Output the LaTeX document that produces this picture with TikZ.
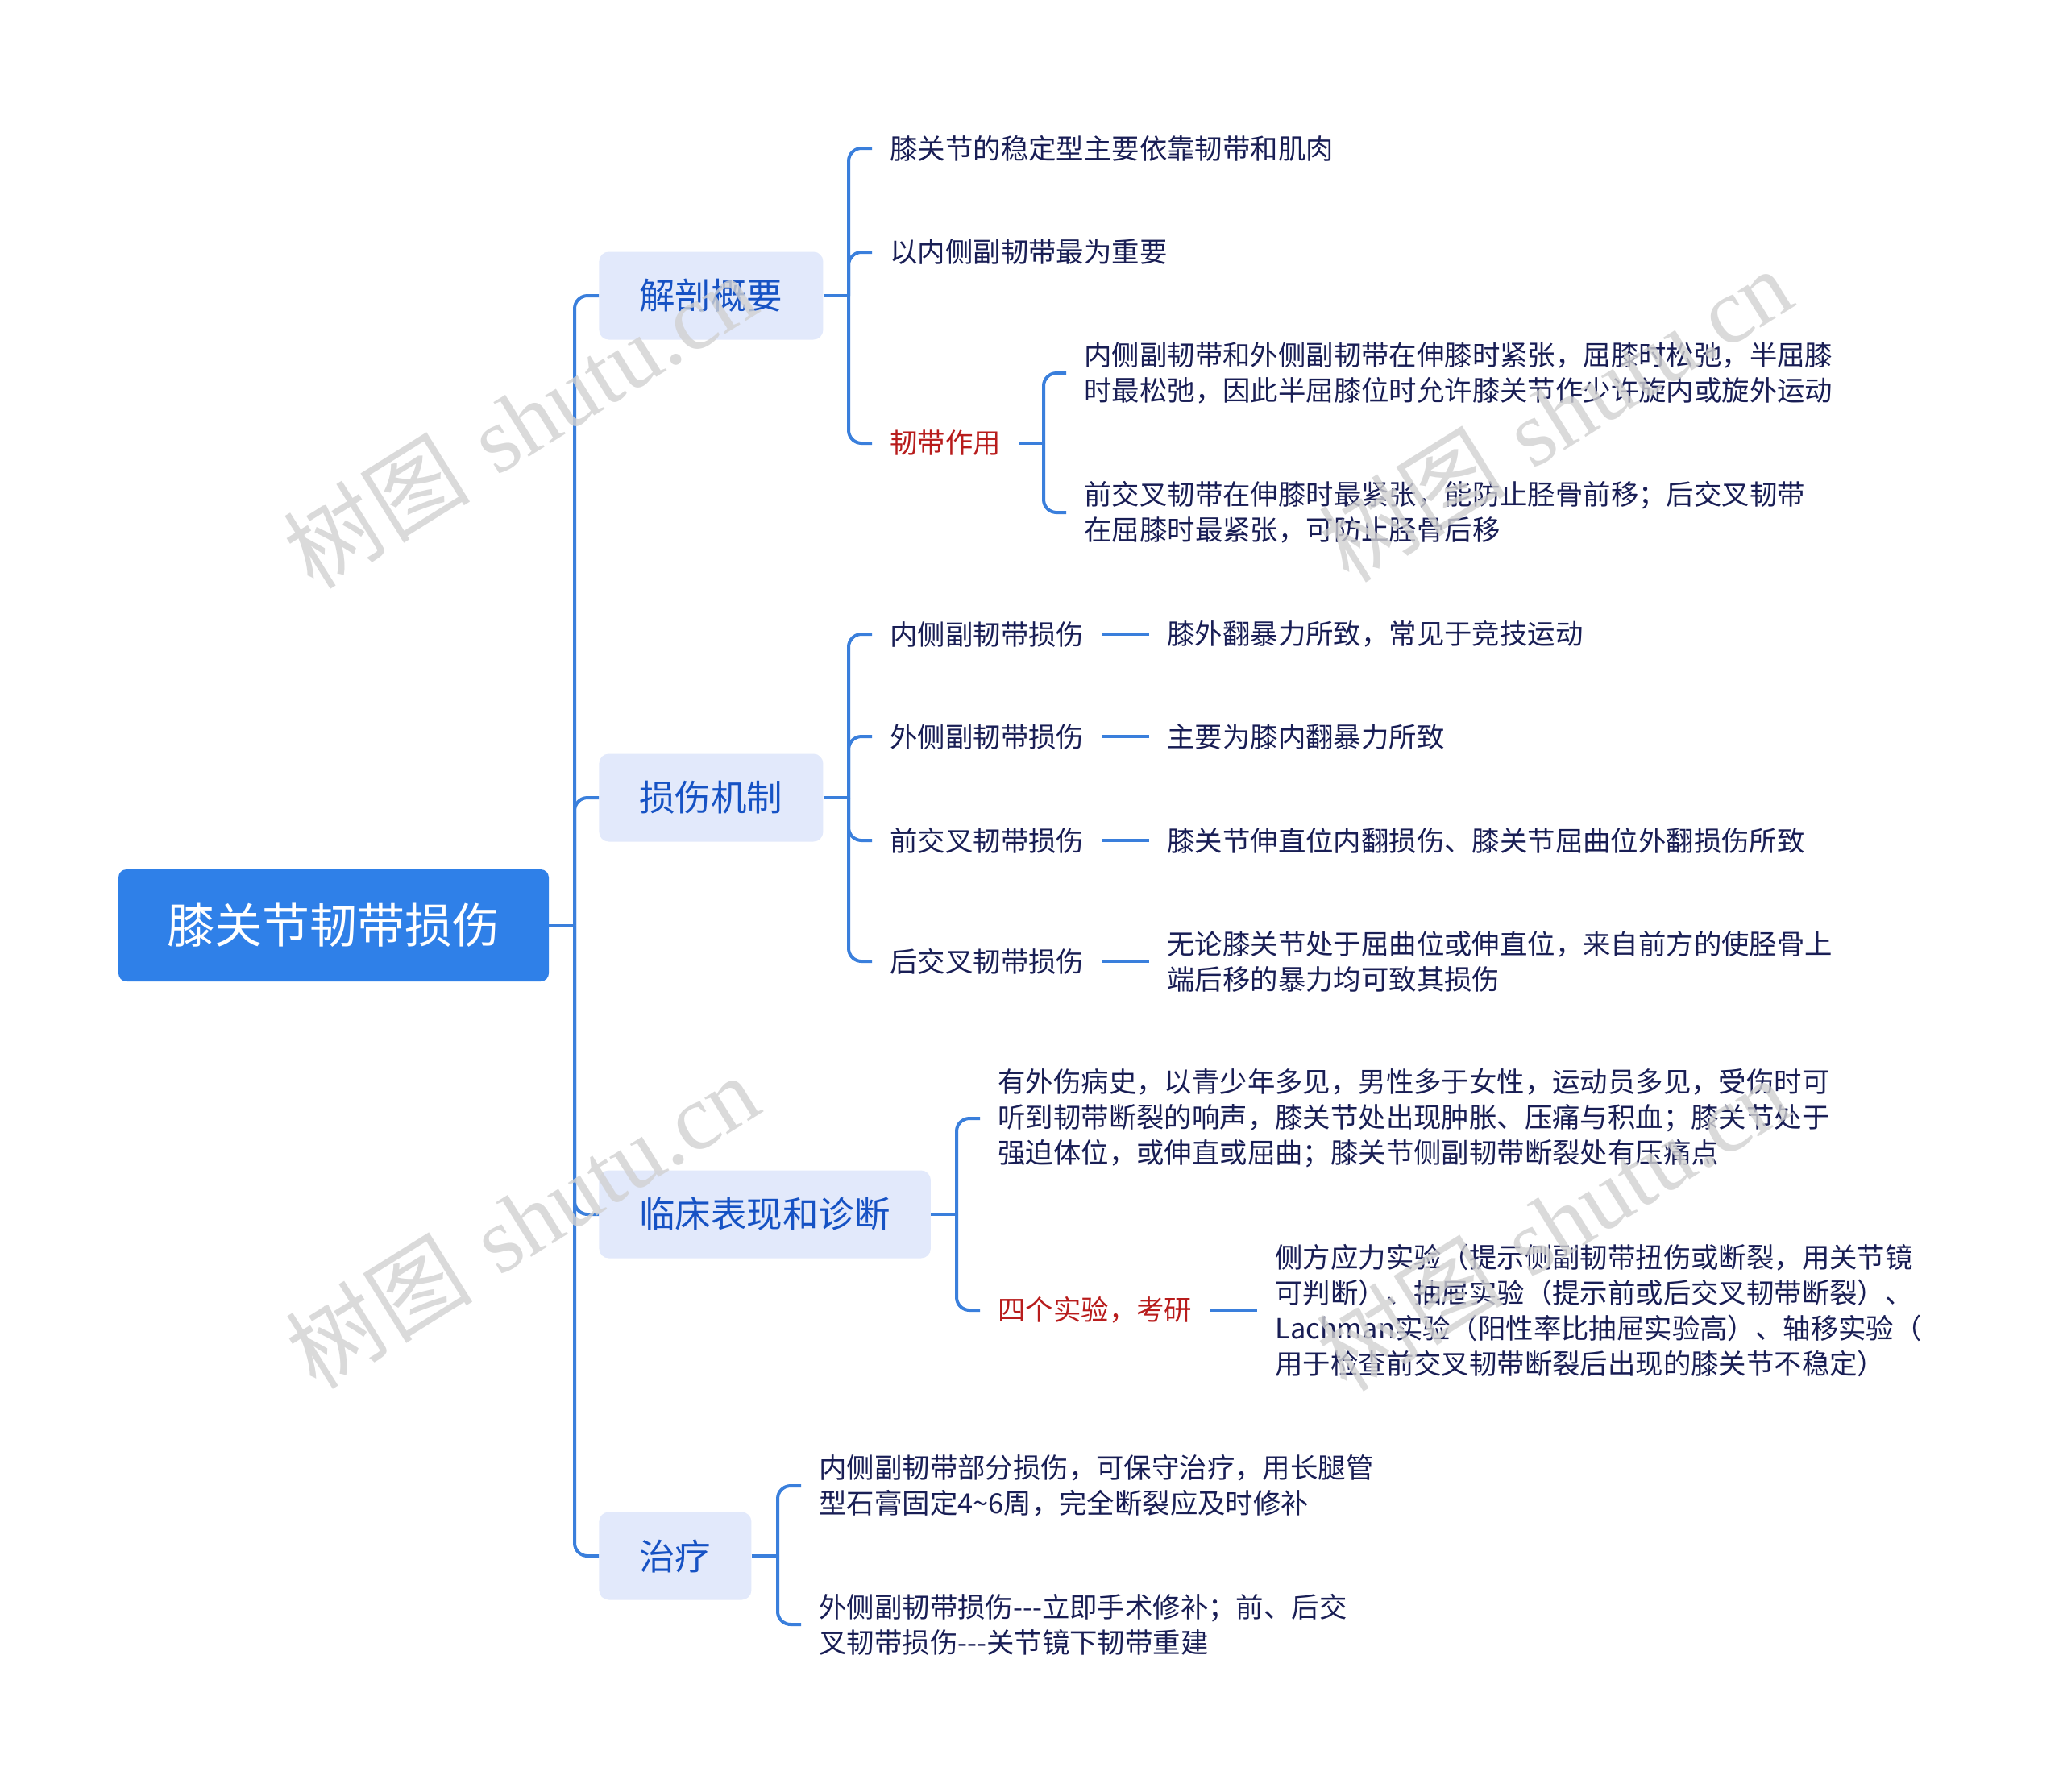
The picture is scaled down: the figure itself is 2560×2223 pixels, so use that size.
\documentclass[tikz,border=0pt]{standalone}
\usepackage{fontspec}
\newfontfamily\cjk{Noto Sans CJK SC}
\newfontfamily\wmserif{Liberation Serif}
\definecolor{rootblue}{HTML}{2F80E8}
\definecolor{lineblue}{HTML}{3A7FDC}
\definecolor{lonefill}{HTML}{E2E9FB}
\definecolor{lonetext}{HTML}{1652C4}
\definecolor{leaftxt}{HTML}{191E55}
\definecolor{redtxt}{HTML}{B81C1C}
\tikzset{
  rootbox/.style={fill=rootblue, rounded corners=5pt, text=white, font=\cjk\fontsize{29.5}{36}\selectfont, minimum width=267pt, minimum height=69.5pt, inner sep=0pt},
  lonebox/.style={fill=lonefill, rounded corners=6pt, text=lonetext, font=\cjk\fontsize{22.25}{28}\selectfont, inner xsep=25pt, inner ysep=0pt, minimum height=54.5pt, anchor=west},
  leaf/.style={text=leaftxt, font=\cjk\fontsize{17.2}{22}\selectfont, align=left, inner xsep=11pt, inner ysep=0pt, anchor=west},
  redleaf/.style={leaf, text=redtxt},
  conn/.style={draw=lineblue, line width=2pt, rounded corners=8pt},
  wmark/.style={rotate=32, text=black!18, opacity=0.8, font=\fontsize{58}{60}\selectfont}
}
\begin{document}
\begin{tikzpicture}[x=0.5pt,y=-0.5pt]
\useasboundingbox[fill=white] (0,0) rectangle (2560,2223);

% root
\node[rootbox] (root) at (414,1148.5) {膝关节韧带损伤};

% level 1
\node[lonebox] (n1) at (743,367) {解剖概要};
\node[lonebox] (n2) at (743,990) {损伤机制};
\node[lonebox] (n3) at (743,1507) {临床表现和诊断};
\node[lonebox] (n4) at (743,1931) {治疗};

% branch 1
\node[leaf] (a1) at (1082,184) {膝关节的稳定型主要依靠韧带和肌肉};
\node[leaf] (a2) at (1082,313) {以内侧副韧带最为重要};
\node[redleaf] (a3) at (1082,550) {韧带作用};
\node[leaf] (a31) at (1323,463) {内侧副韧带和外侧副韧带在伸膝时紧张，屈膝时松弛，半屈膝\\时最松弛，因此半屈膝位时允许膝关节作少许旋内或旋外运动};
\node[leaf] (a32) at (1323,636) {前交叉韧带在伸膝时最紧张，能防止胫骨前移；后交叉韧带\\在屈膝时最紧张，可防止胫骨后移};

% branch 2
\node[leaf] (b1) at (1082,787) {内侧副韧带损伤};
\node[leaf] (b2) at (1082,914) {外侧副韧带损伤};
\node[leaf] (b3) at (1082,1043) {前交叉韧带损伤};
\node[leaf] (b4) at (1082,1193) {后交叉韧带损伤};
\node[leaf] (b1v) at (1426,787) {膝外翻暴力所致，常见于竞技运动};
\node[leaf] (b2v) at (1426,914) {主要为膝内翻暴力所致};
\node[leaf] (b3v) at (1426,1043) {膝关节伸直位内翻损伤、膝关节屈曲位外翻损伤所致};
\node[leaf] (b4v) at (1426,1193) {无论膝关节处于屈曲位或伸直位，来自前方的使胫骨上\\端后移的暴力均可致其损伤};

% branch 3
\node[leaf] (c1) at (1216,1388) {有外伤病史，以青少年多见，男性多于女性，运动员多见，受伤时可\\听到韧带断裂的响声，膝关节处出现肿胀、压痛与积血；膝关节处于\\强迫体位，或伸直或屈曲；膝关节侧副韧带断裂处有压痛点};
\node[redleaf] (c2) at (1216,1626) {四个实验，考研};
\node[leaf] (c2v) at (1560,1626) {侧方应力实验（提示侧副韧带扭伤或断裂，用关节镜\\可判断）、抽屉实验（提示前或后交叉韧带断裂）、\\Lachman实验（阳性率比抽屉实验高）、轴移实验（\\用于检查前交叉韧带断裂后出现的膝关节不稳定）};

% branch 4
\node[leaf] (d1) at (994,1844) {内侧副韧带部分损伤，可保守治疗，用长腿管\\型石膏固定4\textasciitilde 6周，完全断裂应及时修补};
\node[leaf] (d2) at (994,2016) {外侧副韧带损伤-{}-{}-立即手术修补；前、后交\\叉韧带损伤-{}-{}-关节镜下韧带重建};

% junction coordinates
\coordinate (t0) at (713,1148.5);
\coordinate (t1) at (1053,367);
\coordinate (t13) at (1295,550);
\coordinate (t2) at (1053,990);
\coordinate (t3) at (1187,1507);
\coordinate (t4) at (965,1931);

% connectors
\draw[conn] (root.east) -- (t0);
\foreach \c in {n1,n2,n3,n4} \draw[conn] (t0) |- (\c.west);

\draw[conn] (n1.east) -- (t1);
\foreach \c in {a1,a2,a3} \draw[conn] (t1) |- (\c.west);
\draw[conn] (a3.east) -- (t13);
\foreach \c in {a31,a32} \draw[conn] (t13) |- (\c.west);

\draw[conn] (n2.east) -- (t2);
\foreach \c in {b1,b2,b3,b4} \draw[conn] (t2) |- (\c.west);
\draw[conn] (b1.east) -- (b1v.west);
\draw[conn] (b2.east) -- (b2v.west);
\draw[conn] (b3.east) -- (b3v.west);
\draw[conn] (b4.east) -- (b4v.west);

\draw[conn] (n3.east) -- (t3);
\foreach \c in {c1,c2} \draw[conn] (t3) |- (\c.west);
\draw[conn] (c2.east) -- (c2v.west);

\draw[conn] (n4.east) -- (t4);
\foreach \c in {d1,d2} \draw[conn] (t4) |- (\c.west);

% watermarks
\node[wmark] (w1) at (645,522) {{\cjk 树图} {\wmserif shutu.cn}};
\node[wmark] (w2) at (648,1515) {{\cjk 树图} {\wmserif shutu.cn}};
\node[wmark] (w3) at (1930,514) {{\cjk 树图} {\wmserif shutu.cn}};
\node[wmark] (w4) at (1927,1518) {{\cjk 树图} {\wmserif shutu.cn}};
\end{tikzpicture}
\end{document}
